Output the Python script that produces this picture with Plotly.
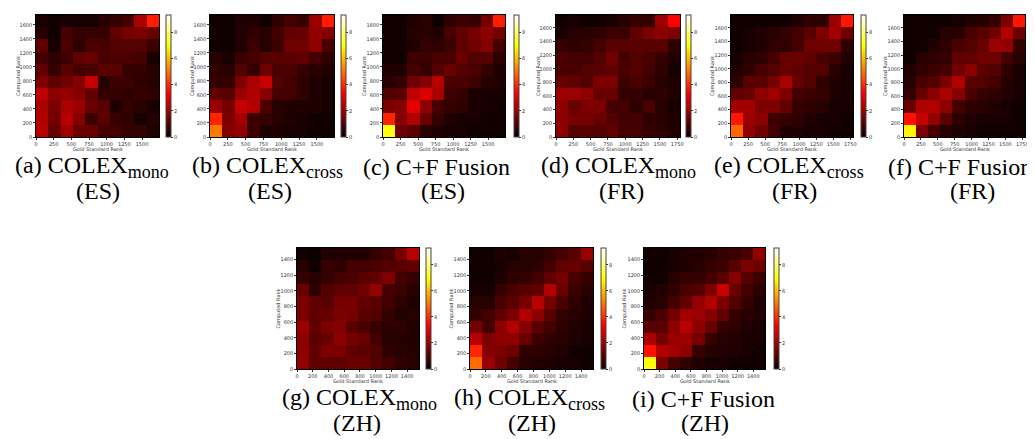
import plotly.graph_objects as go

W, H = 1035, 439

# ---------------- data ----------------
# matrix sizes (rank range) per language
N_ES = 1740
N_FR = 1790
N_ZH = 1550

# each grid: 10 rows listed from TOP (highest computed rank) to BOTTOM, 10 cols left->right
z_a = [  # COLEX mono ES
    [0.2, 0.1, 0.2, 0.2, 0.2, 0.4, 0.6, 0.8, 2.2, 3.8],
    [0.4, 0.1, 0.8, 0.6, 0.6, 0.6, 1.2, 1.5, 1.6, 1.3],
    [1.2, 0.2, 0.9, 0.5, 0.9, 0.9, 1.0, 1.0, 1.0, 0.7],
    [0.8, 0.5, 0.7, 1.2, 1.3, 0.9, 0.9, 0.9, 0.8, 0.2],
    [1.2, 0.6, 1.1, 0.8, 0.9, 1.1, 1.1, 0.6, 0.6, 0.4],
    [1.6, 1.2, 1.4, 1.7, 2.6, 0.4, 0.7, 0.7, 0.5, 0.4],
    [2.5, 1.8, 1.9, 1.7, 1.2, 0.6, 0.6, 0.5, 0.6, 0.5],
    [2.2, 1.6, 2.2, 2.0, 1.3, 1.1, 0.3, 0.6, 0.4, 0.2],
    [2.3, 1.5, 2.4, 1.7, 0.7, 1.1, 0.6, 0.5, 0.2, 0.4],
    [2.4, 1.3, 2.1, 1.3, 1.3, 0.8, 0.8, 0.6, 0.6, 0.3],
]
z_b = [  # COLEX cross ES
    [0.1, 0.1, 0.3, 0.3, 0.1, 0.5, 0.8, 0.6, 2.0, 3.8],
    [0.1, 0.1, 0.3, 0.5, 0.4, 0.8, 1.2, 1.3, 1.9, 1.7],
    [0.1, 0.1, 0.3, 0.7, 0.4, 0.7, 1.4, 1.4, 1.8, 0.9],
    [0.4, 0.2, 0.7, 0.8, 1.0, 1.1, 1.1, 1.2, 0.8, 0.5],
    [0.5, 0.4, 1.0, 0.6, 1.4, 0.9, 0.9, 0.6, 0.4, 0.3],
    [0.6, 0.6, 1.6, 2.2, 2.6, 1.0, 0.8, 0.5, 0.3, 0.2],
    [1.2, 1.1, 2.0, 2.3, 1.7, 0.8, 0.8, 0.5, 0.3, 0.2],
    [2.0, 1.5, 2.6, 2.3, 0.9, 0.4, 0.3, 0.3, 0.3, 0.2],
    [3.9, 1.6, 2.1, 0.7, 0.6, 0.4, 0.3, 0.2, 0.1, 0.1],
    [5.1, 1.7, 1.9, 0.7, 0.3, 0.3, 0.2, 0.2, 0.1, 0.1],
]
z_c = [  # C+F Fusion ES
    [0.1, 0.1, 0.3, 0.4, 0.1, 0.5, 0.7, 0.6, 1.5, 3.8],
    [0.1, 0.1, 0.4, 0.4, 0.3, 0.9, 1.2, 1.5, 1.8, 1.5],
    [0.1, 0.1, 0.3, 0.6, 0.5, 0.7, 1.2, 1.4, 1.7, 0.8],
    [0.1, 0.1, 0.7, 0.7, 0.9, 0.9, 1.3, 1.0, 1.0, 0.5],
    [0.3, 0.3, 0.8, 0.6, 1.0, 1.3, 1.0, 0.9, 0.6, 0.3],
    [0.4, 0.6, 1.4, 1.7, 2.4, 0.9, 0.9, 0.7, 0.4, 0.3],
    [1.0, 1.1, 2.5, 2.9, 2.2, 0.7, 0.6, 0.2, 0.2, 0.2],
    [1.6, 1.7, 3.0, 1.8, 0.8, 0.6, 0.5, 0.2, 0.2, 0.1],
    [3.9, 1.7, 2.3, 1.3, 0.6, 0.3, 0.2, 0.2, 0.1, 0.1],
    [7.1, 1.4, 1.1, 0.4, 0.3, 0.2, 0.2, 0.1, 0.1, 0.1],
]
z_d = [  # COLEX mono FR
    [0.1, 0.2, 0.1, 0.1, 0.2, 0.4, 0.6, 0.6, 2.0, 3.4],
    [0.2, 0.4, 0.4, 0.5, 0.7, 0.7, 1.2, 1.6, 1.8, 1.6],
    [0.6, 0.5, 0.6, 0.8, 1.1, 1.1, 1.1, 1.1, 1.1, 0.5],
    [0.9, 0.8, 0.8, 1.0, 1.4, 0.8, 1.0, 0.9, 0.6, 0.3],
    [0.9, 0.9, 1.0, 1.1, 1.2, 0.9, 1.0, 0.8, 0.5, 0.2],
    [1.3, 1.2, 1.0, 1.6, 1.6, 0.7, 0.9, 0.7, 0.4, 0.3],
    [2.0, 2.0, 1.8, 1.3, 1.3, 0.6, 0.6, 0.4, 0.5, 0.3],
    [1.8, 1.3, 1.6, 1.6, 0.8, 0.8, 0.5, 0.9, 0.4, 0.2],
    [1.8, 1.5, 1.5, 1.3, 1.0, 0.8, 0.8, 0.5, 0.4, 0.3],
    [1.8, 1.1, 1.1, 1.0, 1.2, 0.8, 0.8, 0.6, 0.5, 0.3],
]
z_e = [  # COLEX cross FR
    [0.1, 0.1, 0.1, 0.1, 0.1, 0.3, 0.5, 0.5, 2.0, 3.7],
    [0.1, 0.2, 0.3, 0.4, 0.6, 0.8, 1.1, 1.6, 2.1, 1.4],
    [0.1, 0.2, 0.3, 0.5, 0.5, 0.8, 1.4, 1.4, 1.4, 0.5],
    [0.2, 0.4, 0.5, 0.8, 1.3, 1.3, 1.2, 0.9, 0.7, 0.3],
    [0.3, 0.5, 0.9, 1.0, 1.3, 1.2, 1.0, 1.0, 0.4, 0.2],
    [0.5, 1.1, 1.1, 1.5, 2.2, 1.3, 1.0, 0.5, 0.3, 0.2],
    [1.2, 1.3, 1.8, 2.1, 1.6, 0.8, 0.7, 0.6, 0.3, 0.2],
    [2.1, 2.1, 1.6, 1.6, 1.2, 0.6, 0.5, 0.4, 0.2, 0.2],
    [3.7, 2.0, 1.8, 0.7, 0.6, 0.5, 0.3, 0.2, 0.2, 0.1],
    [4.8, 1.9, 1.4, 0.8, 0.3, 0.3, 0.2, 0.2, 0.1, 0.1],
]
z_f = [  # C+F Fusion FR
    [0.1, 0.1, 0.1, 0.1, 0.2, 0.3, 0.4, 0.6, 1.6, 3.7],
    [0.1, 0.1, 0.1, 0.4, 0.4, 0.9, 1.1, 1.4, 2.3, 1.4],
    [0.1, 0.1, 0.3, 0.5, 0.9, 1.0, 1.3, 2.0, 1.9, 0.6],
    [0.1, 0.4, 0.5, 0.6, 1.2, 1.2, 1.4, 1.4, 0.8, 0.4],
    [0.3, 0.5, 0.7, 0.8, 1.4, 1.8, 1.1, 1.0, 0.5, 0.2],
    [0.4, 0.9, 1.0, 1.6, 2.3, 1.1, 1.0, 0.8, 0.4, 0.2],
    [0.6, 1.3, 1.8, 2.2, 1.7, 0.9, 0.6, 0.5, 0.3, 0.2],
    [1.3, 2.3, 2.3, 1.8, 0.8, 0.5, 0.4, 0.3, 0.2, 0.1],
    [3.6, 2.6, 1.9, 1.1, 0.5, 0.3, 0.2, 0.2, 0.2, 0.1],
    [6.8, 1.6, 0.8, 0.4, 0.3, 0.2, 0.1, 0.1, 0.1, 0.1],
]
z_g = [  # COLEX mono ZH
    [0.1, 0.0, 0.3, 0.3, 0.3, 0.3, 0.6, 0.8, 1.5, 2.4],
    [0.4, 0.1, 0.6, 0.5, 0.8, 0.8, 0.9, 1.0, 1.1, 1.2],
    [0.6, 0.4, 0.6, 0.8, 0.9, 1.1, 1.2, 1.6, 0.8, 0.6],
    [1.3, 0.5, 1.0, 1.2, 1.2, 1.4, 1.9, 0.8, 0.7, 0.4],
    [1.6, 1.2, 1.1, 1.5, 1.5, 1.2, 1.1, 0.8, 0.5, 0.3],
    [1.6, 1.2, 1.3, 1.6, 1.5, 1.1, 1.0, 0.6, 0.3, 0.4],
    [2.0, 1.2, 1.6, 1.7, 1.1, 0.9, 0.6, 0.5, 0.5, 0.3],
    [1.8, 1.1, 1.3, 1.8, 1.5, 1.3, 0.8, 0.4, 0.4, 0.3],
    [1.8, 1.2, 1.6, 1.6, 1.2, 1.1, 1.0, 0.5, 0.4, 0.4],
    [1.9, 1.2, 1.2, 1.2, 1.3, 1.3, 1.0, 0.8, 0.5, 0.4],
]
z_h = [  # COLEX cross ZH
    [0.1, 0.1, 0.3, 0.2, 0.4, 0.4, 0.6, 0.8, 1.1, 2.0],
    [0.1, 0.1, 0.2, 0.4, 0.4, 0.5, 0.8, 1.2, 1.3, 1.1],
    [0.1, 0.1, 0.3, 0.5, 0.6, 0.8, 1.2, 1.5, 0.9, 0.6],
    [0.2, 0.2, 0.6, 0.9, 1.1, 1.2, 2.3, 1.3, 0.7, 0.4],
    [0.4, 0.4, 0.9, 1.1, 1.5, 2.4, 1.5, 0.9, 0.5, 0.3],
    [0.6, 0.8, 1.2, 1.6, 2.3, 1.8, 1.1, 0.6, 0.4, 0.3],
    [1.5, 0.8, 1.8, 2.3, 1.7, 1.1, 0.8, 0.5, 0.3, 0.2],
    [2.4, 1.6, 1.8, 1.8, 1.3, 0.7, 0.5, 0.4, 0.3, 0.2],
    [3.9, 1.7, 1.6, 1.4, 0.5, 0.5, 0.4, 0.3, 0.1, 0.1],
    [4.9, 2.0, 1.4, 0.8, 0.4, 0.3, 0.3, 0.2, 0.2, 0.1],
]
z_i = [  # C+F Fusion ZH
    [0.1, 0.1, 0.2, 0.3, 0.3, 0.4, 0.6, 0.7, 0.9, 1.9],
    [0.1, 0.1, 0.2, 0.3, 0.4, 0.6, 0.7, 1.1, 1.6, 1.4],
    [0.1, 0.1, 0.4, 0.6, 0.6, 0.8, 1.1, 1.7, 1.0, 0.7],
    [0.2, 0.3, 0.5, 0.9, 1.0, 1.6, 2.6, 1.3, 0.8, 0.5],
    [0.3, 0.4, 0.8, 1.2, 1.9, 2.3, 1.6, 1.0, 0.6, 0.3],
    [0.6, 0.9, 1.5, 2.1, 2.0, 1.7, 1.2, 0.6, 0.4, 0.3],
    [1.1, 1.1, 1.8, 2.4, 1.8, 1.3, 0.6, 0.5, 0.3, 0.2],
    [2.2, 1.5, 2.0, 2.0, 1.5, 0.6, 0.4, 0.3, 0.2, 0.2],
    [3.6, 2.3, 2.1, 1.8, 0.6, 0.4, 0.3, 0.3, 0.2, 0.1],
    [7.0, 1.6, 0.8, 0.5, 0.3, 0.2, 0.2, 0.1, 0.1, 0.1],
]

Z_MAX = 9.3
cbar_ticks = [0, 2, 4, 6, 8]
ticks_ES_x = [0, 250, 500, 750, 1000, 1250, 1500]
ticks_FR_x = [0, 250, 500, 750, 1000, 1250, 1500, 1750]
ticks_ZH_x = [0, 200, 400, 600, 800, 1000, 1200, 1400]
ticks_ES_y = [0, 200, 400, 600, 800, 1000, 1200, 1400, 1600]
ticks_FR_y = [0, 200, 400, 600, 800, 1000, 1200, 1400, 1600]
ticks_ZH_y = [0, 200, 400, 600, 800, 1000, 1200, 1400]

SUB = '<sub><span style="font-size:18px">{}</span></sub>'
captions_1 = ["(a) COLEX" + SUB.format("mono"), "(b) COLEX" + SUB.format("cross"), "(c) C+F Fusion",
              "(d) COLEX" + SUB.format("mono"), "(e) COLEX" + SUB.format("cross"), "(f) C+F Fusion",
              "(g) COLEX" + SUB.format("mono"), "(h) COLEX" + SUB.format("cross"), "(i) C+F Fusion"]
captions_2 = ["(ES)", "(ES)", "(ES)", "(FR)", "(FR)", "(FR)", "(ZH)", "(ZH)", "(ZH)"]

# ---------------- layout geometry (pixels) ----------------
# plot box: (left, right, top, bottom), colorbar left x, ylabel x
boxes = [
    (28, 151, 7, 129, 158, 10),
    (202, 326, 7, 129, 333, 184),
    (375, 497, 7, 129, 506, 356),
    (548, 672, 7, 129, 678, 530),
    (723, 845, 7, 129, 853, 704),
    (896, 1017, 7, 129, 1026, 877),
    (289, 411, 240, 361, 418, 270),
    (462, 585, 240, 361, 593, 443),
    (636, 757, 240, 361, 766, 616),
]
cap1_x = [84, 259, 428, 610, 781, 952, 351, 521, 695]
cap2_x = [90, 262, 435, 613, 786, 964, 349, 524, 697]

hot = [[0.0, "rgb(10,0,0)"], [0.365, "rgb(255,0,0)"],
       [0.746, "rgb(255,255,0)"], [1.0, "rgb(255,255,255)"]]

panels = [
    (z_a, N_ES, ticks_ES_x, ticks_ES_y), (z_b, N_ES, ticks_ES_x, ticks_ES_y),
    (z_c, N_ES, ticks_ES_x, ticks_ES_y), (z_d, N_FR, ticks_FR_x, ticks_FR_y),
    (z_e, N_FR, ticks_FR_x, ticks_FR_y), (z_f, N_FR, ticks_FR_x, ticks_FR_y),
    (z_g, N_ZH, ticks_ZH_x, ticks_ZH_y), (z_h, N_ZH, ticks_ZH_x, ticks_ZH_y),
    (z_i, N_ZH, ticks_ZH_x, ticks_ZH_y),
]

def px_x(p):
    return p / W

def px_y(p):
    return 1 - p / H

TICKFONT = dict(family="DejaVu Sans", size=5, color="#333")
SERIF = "Liberation Serif, Times New Roman, Times, serif"

fig = go.Figure()
annotations = []
layout = {}
for k, ((z, n, tx, ty), (l, r, t, b, cbx, ylx)) in enumerate(zip(panels, boxes)):
    idx = "" if k == 0 else str(k + 1)
    d = n / 10.0
    fig.add_trace(go.Heatmap(
        z=z[::-1], x0=d / 2, dx=d, y0=d / 2, dy=d,
        xaxis="x" + idx, yaxis="y" + idx,
        colorscale=hot, zmin=0, zmax=Z_MAX,
        colorbar=dict(
            x=px_x(cbx), xanchor="left", xpad=0,
            y=px_y((t + b) / 2), yanchor="middle", ypad=0,
            lenmode="pixels", len=b - t, thickness=5,
            outlinewidth=1, outlinecolor="#444",
            tickvals=cbar_ticks, ticks="outside", ticklen=2, tickwidth=0.5,
            tickcolor="#333", tickfont=TICKFONT,
            showticklabels=(k != 5),
        ),
        hoverinfo="skip",
    ))
    layout["xaxis" + idx] = dict(
        domain=[px_x(l), px_x(r)], anchor="y" + idx, range=[0, n],
        tickvals=tx, ticks="outside", ticklen=2, tickwidth=0.5, tickcolor="#333",
        tickfont=TICKFONT, showgrid=False, zeroline=False,
        showline=True, linecolor="black", linewidth=0.6, mirror=True,
    )
    layout["yaxis" + idx] = dict(
        domain=[px_y(b), px_y(t)], anchor="x" + idx, range=[0, n],
        tickvals=ty, ticks="outside", ticklen=2, tickwidth=0.5, tickcolor="#333",
        tickfont=TICKFONT, showgrid=False, zeroline=False,
        showline=True, linecolor="black", linewidth=0.6, mirror=True,
    )
    # axis titles
    annotations.append(dict(
        text="Gold Standard Rank", x=px_x((l + r) / 2), y=px_y(b + 12),
        xref="paper", yref="paper", showarrow=False, xanchor="center", yanchor="middle",
        font=dict(family="DejaVu Sans", size=5, color="#333")))
    annotations.append(dict(
        text="Computed Rank", x=px_x(ylx), y=px_y((t + b) / 2), textangle=-90,
        xref="paper", yref="paper", showarrow=False, xanchor="center", yanchor="middle",
        font=dict(family="DejaVu Sans", size=5, color="#333")))
    # captions
    row_top = 159 if k < 6 else 391
    annotations.append(dict(
        text=captions_1[k], x=px_x(cap1_x[k]), y=px_y(row_top),
        xref="paper", yref="paper", showarrow=False, xanchor="center", yanchor="middle",
        borderpad=0, font=dict(family=SERIF, size=24, color="black")))
    annotations.append(dict(
        text=captions_2[k], x=px_x(cap2_x[k]), y=px_y(row_top + 24),
        xref="paper", yref="paper", showarrow=False, xanchor="center", yanchor="middle",
        borderpad=0, font=dict(family=SERIF, size=24, color="black")))

fig.update_layout(
    width=W, height=H,
    margin=dict(l=0, r=0, t=0, b=0, autoexpand=False),
    paper_bgcolor="white", plot_bgcolor="white",
    annotations=annotations, showlegend=False,
    **layout,
)

fig.write_html("out.html")
